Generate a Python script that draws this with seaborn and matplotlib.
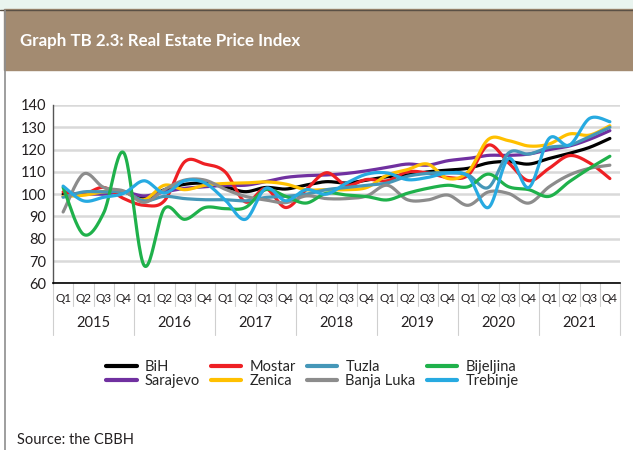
import numpy as np
import pandas as pd
import matplotlib
matplotlib.use("Agg")
import matplotlib.pyplot as plt
import seaborn as sns
from matplotlib.lines import Line2D
from matplotlib.patches import Rectangle
import matplotlib.transforms as mtrans

# ---------------- data ----------------
years = ["2015", "2016", "2017", "2018", "2019", "2020", "2021"]
quarters = ["Q1", "Q2", "Q3", "Q4"]

bih = [100, 100, 101, 101, 98, 102, 104.4, 104.9, 103.3, 101.1, 103, 102.3,
       104.1, 105.6, 105, 106.3, 107.8, 108.6, 110, 110.8, 111.6, 114, 114.6, 113.5,
       116, 118.3, 121, 125]
sarajevo = [99, 100, 100, 101, 99.2, 101, 102.6, 103.3, 104, 104, 105.6, 107.5,
            108.3, 108.6, 109.3, 110.5, 112, 113.5, 113, 115, 116, 117.4, 117.4, 118,
            120, 121.6, 124.6, 128.5]
mostar = [101, 100, 103, 98, 95, 97, 114.5, 113.5, 110, 96.5, 102.5, 94,
          102, 109.6, 104, 106.6, 106, 110, 109.5, 107.5, 108.5, 122, 114, 106,
          111.6, 117.3, 114, 107]
zenica = [99, 99.5, 101, 101, 97.5, 104, 102, 104, 104.8, 105, 105.5, 104.5,
          102, 102, 102, 103, 108.5, 111, 113.5, 107, 110, 124.6, 124, 121.6,
          122.5, 127, 126.5, 130.7]
tuzla = [98.6, 101, 101, 101, 97, 99, 98, 97.5, 97.5, 97, 98.5, 99,
         100, 102, 103, 104, 105, 108, 109.3, 109.6, 108.6, 103, 118.5, 118,
         121, 122, 125.8, 130]
banja_luka = [92, 109, 103, 101.4, 96.3, 102, 106.3, 106.3, 102.2, 99, 97.4, 96.2,
              99.2, 98, 98, 99.2, 104, 97.5, 97.4, 99.6, 95, 101, 100.3, 96,
              103.3, 108.6, 111.6, 113]
bijeljina = [103, 82, 91.5, 118.5, 68, 93.5, 88.7, 94, 93.5, 94, 102, 99,
             96, 100.4, 99.6, 98.9, 97.4, 100.4, 102.6, 104, 103.3, 109, 103.3, 102,
             99, 105.6, 111.6, 117]
trebinje = [103.6, 97, 98.6, 100.4, 106, 100.5, 106, 105, 97.4, 88.7, 102.6, 97,
            102, 100, 105, 109, 109.5, 106.5, 107.5, 109.5, 108, 94, 116, 103,
            125, 122, 134, 132.5]

series_names = ["BiH", "Sarajevo", "Mostar", "Zenica", "Tuzla", "Banja Luka",
                "Bijeljina", "Trebinje"]
series_values = [bih, sarajevo, mostar, zenica, tuzla, banja_luka, bijeljina, trebinje]
series_colors = ["#000000", "#7030a0", "#ee2024", "#ffc000", "#4597b8", "#8c8c8c",
                 "#1fb14b", "#27aae1"]

y_ticks = [60, 70, 80, 90, 100, 110, 120, 130, 140]


def smooth(xs, ys, n=24):
    """Excel-like smoothed line (cubic Bezier with Catmull-Rom tangents)."""
    xs = np.asarray(xs, float)
    ys = np.asarray(ys, float)
    pts = np.column_stack([xs, ys])
    out = [pts[0]]
    t = np.linspace(0, 1, n + 1)[1:]
    for i in range(len(pts) - 1):
        p0 = pts[i - 1] if i > 0 else pts[i]
        p1 = pts[i]
        p2 = pts[i + 1]
        p3 = pts[i + 2] if i + 2 < len(pts) else pts[i + 1]
        c1 = p1 + (p2 - p0) / 6.0
        c2 = p2 - (p3 - p1) / 6.0
        for tt in t:
            b = ((1 - tt) ** 3) * p1 + 3 * ((1 - tt) ** 2) * tt * c1 + \
                3 * (1 - tt) * tt ** 2 * c2 + tt ** 3 * p2
            out.append(b)
    out = np.array(out)
    return out[:, 0], out[:, 1]


# ---------------- figure ----------------
sns.set_style("white")
plt.rcParams['font.family'] = ['Lato', 'DejaVu Sans']

W, H = 633, 450
fig = plt.figure(figsize=(W / 100, H / 100), dpi=100)
fig.patch.set_facecolor("white")


def fx(px):
    return px / W


def fy(py):
    return 1 - py / H


# decorations
fig.add_artist(Rectangle((0, fy(9)), 1, 9 / H, transform=fig.transFigure,
                         color="#e9f4ef", zorder=0))
fig.add_artist(Rectangle((fx(4), fy(70)), 1 - fx(4), 61 / H, transform=fig.transFigure,
                         color="#a38b71", zorder=1))
fig.add_artist(Line2D([0, 1], [fy(9.5), fy(9.5)], transform=fig.transFigure,
                      color="#5a5045", lw=1.0, zorder=2))
fig.add_artist(Line2D([fx(4.5), fx(4.5)], [0, fy(9.5)], transform=fig.transFigure,
                      color="#8e8e8e", lw=1.2, zorder=2))
fig.text(fx(20), fy(41), "Graph TB 2.3: Real Estate Price Index", color="white",
         fontsize=12.2, fontweight="bold", va="center", ha="left", zorder=3)
fig.text(fx(17), fy(440), "Source: the CBBH", color="#231f20", fontsize=10.5,
         va="center", ha="left")

# axes
top_px, bot_px, left_px, right_px = 105, 283.3, 53, 620
ax = fig.add_axes([fx(left_px), fy(bot_px), (right_px - left_px) / W, (bot_px - top_px) / H])
ax.set_facecolor("white")

x_idx = np.arange(len(bih))
rows = []
for name, vals in zip(series_names, series_values):
    sx, sy = smooth(x_idx, vals)
    rows.append(pd.DataFrame({"x": sx, "y": sy, "series": name, "order": np.arange(len(sx))}))
df = pd.concat(rows, ignore_index=True)

sns.lineplot(data=df, x="x", y="y", hue="series", hue_order=series_names,
             palette=dict(zip(series_names, series_colors)), estimator=None,
             sort=False, units="series", lw=2.3, ax=ax, legend=False)

ax.set_xlim(-0.5, len(bih) - 0.5)
ax.set_ylim(60, 140)
ax.set_yticks(y_ticks)
ax.set_yticklabels([str(v) for v in y_ticks])
ax.set_xticks([])
ax.set_xlabel("")
ax.set_ylabel("")
ax.yaxis.grid(True, color="#d9d9d9", lw=1.8)
ax.set_axisbelow(True)
for s in ["top", "right"]:
    ax.spines[s].set_visible(False)
ax.spines["left"].set_color("#555555")
ax.spines["left"].set_linewidth(1.0)
ax.spines["bottom"].set_color("#000000")
ax.spines["bottom"].set_linewidth(1.2)
ax.tick_params(axis="y", length=3, width=1, color="#555555", direction="out",
               labelsize=10.5, labelcolor="#231f20", pad=2)

# category axis labels
trans = mtrans.blended_transform_factory(ax.transData, ax.transAxes)
hpx = bot_px - top_px
for k in range(len(bih) + 1):
    xb = k - 0.5
    y_end = (bot_px - 335) / hpx if k % 4 == 0 else (bot_px - 306) / hpx
    ax.add_line(Line2D([xb, xb], [0, y_end], transform=trans, color="#cfcfcf",
                       lw=0.8, clip_on=False))
for k in range(len(bih)):
    ax.text(k, (bot_px - 298) / hpx, quarters[k % 4], transform=trans, ha="center",
            va="center", fontsize=8.5, color="#231f20")
for j, yr in enumerate(years):
    ax.text(4 * j + 1.5, (bot_px - 323) / hpx, yr, transform=trans, ha="center",
            va="center", fontsize=10.5, color="#231f20")

# legend
handles = [Line2D([], [], color=c, lw=3) for c in series_colors]
fig.legend(handles, series_names, ncol=4, loc="upper left",
           bbox_to_anchor=(fx(106), fy(360)), frameon=False, fontsize=10.5,
           handlelength=2.1, handletextpad=0.55, columnspacing=0.75,
           labelspacing=0.0, borderpad=0, borderaxespad=0)

fig.savefig("out.png", dpi=100, facecolor=fig.get_facecolor())
